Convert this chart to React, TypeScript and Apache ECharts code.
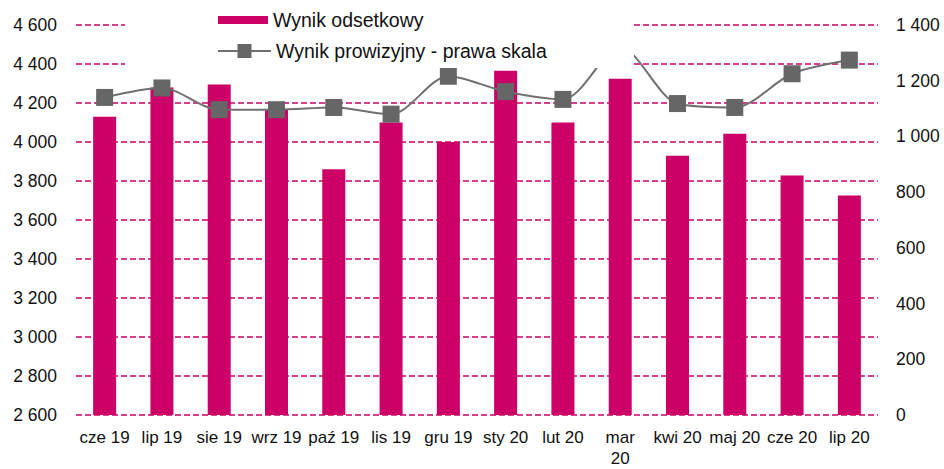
import React, { useEffect, useRef } from "react";
import * as echarts from "echarts";

const categories = [
  "cze 19", "lip 19", "sie 19", "wrz 19", "paź 19", "lis 19", "gru 19",
  "sty 20", "lut 20", "mar\n20", "kwi 20", "maj 20", "cze 20", "lip 20",
];
const wynikOdsetkowy = [4130, 4280, 4295, 4165, 3860, 4100, 4000, 4365, 4100, 4325, 3930, 4042, 3828, 3726];
const wynikProwizyjny = [1140, 1174, 1096, 1096, 1104, 1080, 1216, 1161, 1133, 1320, 1118, 1104, 1225, 1274];
const seriesNames = ["Wynik odsetkowy", "Wynik prowizyjny - prawa skala"];

const MAGENTA = "#CC0066";
const GREY = "#666666";
const FONT = "Liberation Sans, Arial, sans-serif";

const fmt = (v: number) => String(v).replace(/\B(?=(\d{3})+(?!\d))/g, " ");

export default function App() {
  const ref = useRef<HTMLDivElement>(null);
  useEffect(() => {
    if (!ref.current) return;
    const chart = echarts.init(ref.current, null, { renderer: "svg" });
    chart.setOption({
      animation: false,
      backgroundColor: "#ffffff",
      textStyle: { fontFamily: FONT },
      grid: { left: 76, right: 66, top: 25, bottom: 51, containLabel: false },
      legend: [
        {
          data: [{ name: seriesNames[0], icon: "rect" }],
          left: 218,
          top: 10,
          padding: 0,
          itemWidth: 50,
          itemHeight: 8,
          z: 10,
          textStyle: { fontSize: 19.5, color: "#111", fontFamily: FONT, lineHeight: 20 },
        },
        {
          data: [{ name: seriesNames[1] }],
          left: 217,
          top: 41,
          padding: 0,
          itemWidth: 53,
          itemHeight: 17.5,
          z: 10,
          textStyle: { fontSize: 19.5, color: "#111", fontFamily: FONT, lineHeight: 20 },
        },
      ],
      graphic: [
        {
          type: "rect",
          z: 5,
          shape: { x: 125, y: 0, width: 509, height: 68 },
          style: { fill: "#ffffff" },
          silent: true,
        },
      ],
      xAxis: {
        type: "category",
        data: categories,
        axisLine: { show: false },
        axisTick: { show: false },
        axisLabel: {
          interval: 0,
          fontSize: 17,
          lineHeight: 21,
          color: "#111",
          margin: 12,
          fontFamily: FONT,
        },
      },
      yAxis: [
        {
          type: "value",
          min: 2600,
          max: 4600,
          interval: 200,
          axisLine: { show: false },
          axisTick: { show: false },
          axisLabel: { formatter: fmt, fontSize: 17.5, color: "#111", margin: 19, fontFamily: FONT },
          splitLine: { show: true, lineStyle: { color: MAGENTA, type: [6, 3], width: 1.5 } },
        },
        {
          type: "value",
          min: 0,
          max: 1400,
          interval: 200,
          position: "right",
          axisLine: { show: false },
          axisTick: { show: false },
          axisLabel: { formatter: fmt, fontSize: 17.5, color: "#111", margin: 18, fontFamily: FONT },
          splitLine: { show: false },
        },
      ],
      series: [
        {
          name: seriesNames[0],
          type: "bar",
          data: wynikOdsetkowy,
          barWidth: 23,
          itemStyle: { color: MAGENTA },
          z: 2,
        },
        {
          name: seriesNames[1],
          type: "line",
          yAxisIndex: 1,
          data: wynikProwizyjny,
          smooth: 0.3,
          symbol: "rect",
          symbolSize: 17,
          itemStyle: { color: GREY },
          lineStyle: { color: "#707070", width: 2 },
          z: 3,
        },
      ],
    });
    return () => chart.dispose();
  }, []);
  return <div ref={ref} style={{ width: 944, height: 469, position: "absolute", left: 0, top: 0 }} />;
}
